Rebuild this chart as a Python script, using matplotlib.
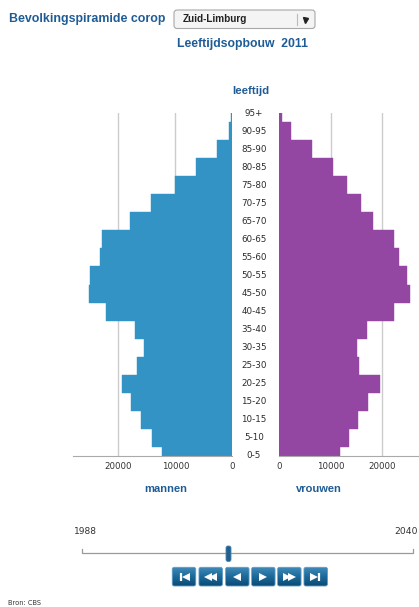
import matplotlib
matplotlib.use('Agg')
import matplotlib.pyplot as plt
import numpy as np
from matplotlib.patches import FancyBboxPatch
from matplotlib.transforms import blended_transform_factory

# leeftijdsgroepen, van jong naar oud
age_groups = ['0-5', '5-10', '10-15', '15-20', '20-25', '25-30', '30-35', '35-40',
              '40-45', '45-50', '50-55', '55-60', '60-65', '65-70', '70-75',
              '75-80', '80-85', '85-90', '90-95', '95+']
mannen = [12300, 14150, 16000, 17700, 19350, 16650, 15500, 17000, 22200, 25200,
          24900, 23300, 22800, 18000, 14200, 10050, 6420, 2740, 600, 150]
vrouwen = [11800, 13550, 15300, 17200, 19600, 15550, 15100, 17100, 22200, 25400,
           24800, 23250, 22350, 18200, 15900, 13250, 10500, 6400, 2400, 600]
x_ticks = [0, 10000, 20000]
x_ticklabels = ['0', '10000', '20000']

blue = '#3393c4'
purple = '#9446a3'
title_col = '#1f5c96'
grid_col = '#cccccc'

W, H = 419, 607
fig = plt.figure(figsize=(W / 100, H / 100), dpi=100)

# achtergrond-laag in pixelcoordinaten voor de teksten en knoppen
ui = fig.add_axes([0, 0, 1, 1], zorder=0)
ui.set_xlim(0, W)
ui.set_ylim(H, 0)
ui.axis('off')

ypos = np.arange(len(age_groups))

axL = fig.add_axes([73 / W, 1 - 456 / H, (232.3 - 73) / W, 343 / H], zorder=1)
axR = fig.add_axes([279 / W, 1 - 456 / H, (419 - 279) / W, 343 / H], zorder=1)

axL.barh(ypos, mannen, height=1.0, color=blue, edgecolor=blue, linewidth=0.3, zorder=2)
axR.barh(ypos, vrouwen, height=1.0, color=purple, edgecolor=purple, linewidth=0.3, zorder=2)

axL.set_xlim(27950, 0)
axR.set_xlim(0, 27130)

for ax in (axL, axR):
    ax.set_facecolor('none')
    ax.set_ylim(0, len(age_groups) - 1)
    ax.set_yticks([])
    ax.set_xticks(x_ticks)
    ax.set_xticklabels(x_ticklabels)
    ax.tick_params(axis='x', length=0, pad=4.5, labelsize=6.2, labelcolor='#333333')
    for s in ('top', 'left', 'right'):
        ax.spines[s].set_visible(False)
    ax.spines['bottom'].set_color('#aaaaaa')
    ax.spines['bottom'].set_linewidth(0.8)
    for t in x_ticks:
        ax.axvline(t, color=grid_col, linewidth=1.0, zorder=1)

# leeftijdslabels tussen de twee helften
tr = blended_transform_factory(ui.transData, axL.transData)
for i, lab in enumerate(age_groups):
    fig.text(254, ypos[i], lab, transform=tr, ha='center', va='center',
             fontsize=6.3, color='#2b2b2b', family='DejaVu Sans', zorder=3)

bold = dict(family='Liberation Sans', fontweight='bold', color=title_col)
ui.text(9.3, 19, 'Bevolkingspiramide corop', ha='left', va='center', fontsize=8.9, **bold)
ui.text(176.7, 43.5, 'Leeftijdsopbouw  2011', ha='left', va='center', fontsize=8.8, **bold)
ui.text(251, 90.5, 'leeftijd', ha='center', va='center', fontsize=8.2, **bold)
ui.text(165.7, 489.5, 'mannen', ha='center', va='center', fontsize=8.0, **bold)
ui.text(319, 489.5, 'vrouwen', ha='center', va='center', fontsize=8.0, **bold)

# keuzelijst
box = FancyBboxPatch((174, 10), 141, 18.5, boxstyle='round,pad=0,rounding_size=3',
                     facecolor='#f4f4f4', edgecolor='#a8a8a8', linewidth=0.8)
ui.add_patch(box)
ui.plot([296.7, 296.7], [14, 24.5], color='#bbbbbb', linewidth=0.8)
ui.text(182.3, 19.3, 'Zuid-Limburg', ha='left', va='center', fontsize=7.2,
        family='Liberation Sans', fontweight='bold', color='#222222')
ui.plot([304.5], [19.5], marker='v', markersize=3.6, color='#222222')

# tijdschuif
ui.text(85.5, 531.7, '1988', ha='center', va='center', fontsize=6.6, color='#333333')
ui.text(417.5, 531.7, '2040', ha='right', va='center', fontsize=6.6, color='#333333')
ui.plot([81.7, 81.7, 413.3, 413.3], [549, 552.7, 552.7, 549], color='#9a9a9a', linewidth=0.9)
handle = FancyBboxPatch((226, 546), 5, 15.5, boxstyle='round,pad=0,rounding_size=2',
                        facecolor='#235f8c', edgecolor='#4a86b0', linewidth=0.6, zorder=3)
ui.add_patch(handle)

# afspeelknoppen
grad = np.linspace(0, 1, 50).reshape(-1, 1)
cmap = matplotlib.colors.LinearSegmentedColormap.from_list('knop', ['#3f8ab8', '#1c6a9a', '#0b4a76'])
centers = [184, 210.7, 237.3, 263.3, 289.3, 315.7]
bw, bh, btop = 23.5, 18.7, 567.3
for c in centers:
    p = FancyBboxPatch((c - bw / 2, btop), bw, bh, boxstyle='round,pad=0,rounding_size=2',
                       facecolor='none', edgecolor='#5d9cc6', linewidth=0.6, zorder=3)
    ui.add_patch(p)
    im = ui.imshow(grad, cmap=cmap, extent=(c - bw / 2, c + bw / 2, btop + bh, btop),
                   aspect='auto', zorder=2, interpolation='bilinear')
    im.set_clip_path(p)

ym = btop + bh / 2
ms = 5.2
glyphs = [
    [('|', -3.5), ('<', 1.5)],
    [('<', -2.6), ('<', 2.4)],
    [('<', 0)],
    [('>', 0)],
    [('>', -2.4), ('>', 2.6)],
    [('>', -1.5), ('|', 3.5)],
]
for c, g in zip(centers, glyphs):
    for m, dx in g:
        if m == '|':
            ui.plot([c + dx], [ym], marker='|', markersize=6, markeredgewidth=1.6,
                    color='white', zorder=4)
        else:
            ui.plot([c + dx], [ym], marker=m, markersize=ms, color='white',
                    markeredgewidth=0, zorder=4)

ui.text(8, 603, 'Bron: CBS', ha='left', va='center', fontsize=4.8, color='#333333')

fig.savefig('out.png', dpi=100)
